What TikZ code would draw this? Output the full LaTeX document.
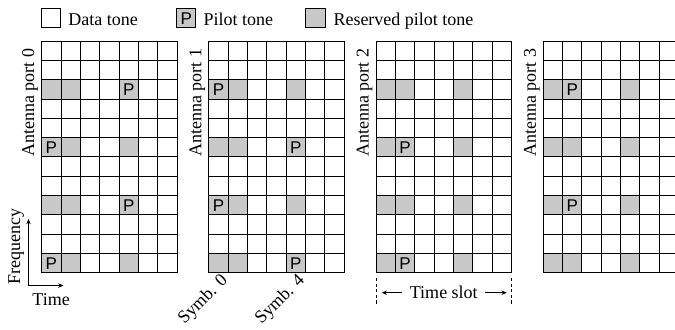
\documentclass[tikz,border=0pt]{standalone}
\usepackage{fontspec}
\setmainfont{Liberation Serif}
\newfontfamily\pilotsans{Liberation Sans}
\usetikzlibrary{arrows.meta}

\definecolor{resgray}{HTML}{C8C8C8}

\tikzset{
  tonebox/.style={draw, minimum size=9.65pt, inner sep=0pt, line width=0.5pt},
  pilotP/.style={font=\pilotsans\fontsize{8.5}{9}\selectfont, inner sep=0pt},
  plain/.style={inner sep=0pt},
  >={Stealth[length=2.6pt,width=2.2pt]},
}

\begin{document}
\begin{tikzpicture}[x=0.5pt, y=-0.5pt, line width=0.5pt, font=\fontsize{9}{10.8}\selectfont]
\useasboundingbox (0,0) rectangle (675,329);

% legend
\node[tonebox] (lgdata) at (51.3,18.3) {};
\node[plain, anchor=base west] (lgdatatxt) at (68,25) {Data tone};
\node[tonebox, fill=resgray, pilotP] (lgpilot) at (186.2,18.3) {P};
\node[plain, anchor=base west] (lgpilottxt) at (203,25) {Pilot tone};
\node[tonebox, fill=resgray] (lgres) at (315.6,18.3) {};
\node[plain, anchor=base west] (lgrestxt) at (333,25) {Reserved pilot tone};

% one grid per antenna port
\foreach \k in {0,...,3} {
  \pgfmathsetmacro\gx{41.7+167.2*\k}
  % reserved pilot tones
  \foreach \r in {2,5,8,11}
    \foreach \c in {0,1,4}
      \fill[resgray] (\gx+\c*19.33, 41+\r*19.33) rectangle ++(19.33,19.33);
  % grid lines
  \foreach \c in {0,...,7}
    \draw (\gx+\c*19.33, 41) -- ++(0,231.96);
  \foreach \r in {0,...,12}
    \draw (\gx, 41+\r*19.33) -- ++(135.31,0);
  % port label
  \node[plain, rotate=90, anchor=base east] (ap\k) at (\gx-7.5,48) {Antenna port \k};
}

% pilot tones (port/row/column)
\foreach \k/\r/\c in {0/2/4, 0/5/0, 0/8/4, 0/11/0,
                      1/2/0, 1/5/4, 1/8/0, 1/11/4,
                      2/5/1, 2/11/1, 3/2/1, 3/8/1}
  \node[pilotP] (p\k-\r) at (41.7+167.2*\k+\c*19.33+9.67, 41+\r*19.33+9.67) {P};

% frequency / time axes
\coordinate (orig) at (28.5,285.5);
\coordinate (freqend) at (28.5,219);
\coordinate (timeend) at (63.5,285.5);
\draw[<->] (freqend) -- (orig) -- (timeend);
\node[plain, rotate=90, anchor=base west] (freqlbl) at (20,285) {Frequency};
\node[plain, anchor=base west] (timelbl) at (32,305) {Time};

% symbol labels
\node[plain, rotate=45, anchor=east] (symb0) at (225.5,278) {Symb. 0};
\node[plain, rotate=45, anchor=east] (symb4) at (302.5,278) {Symb. 4};

% time slot
\coordinate (tsltop) at (376,278);
\coordinate (tslbot) at (376,305);
\coordinate (tsrtop) at (511.7,278);
\coordinate (tsrbot) at (511.7,305);
\draw[dash pattern=on 1.6pt off 1.2pt] (tsltop) -- (tslbot);
\draw[dash pattern=on 1.6pt off 1.2pt] (tsrtop) -- (tsrbot);
\node[inner sep=3.5pt] (tslot) at (443.8,292.7) {Time slot};
\coordinate (tsleft) at (381.7,292.7);
\coordinate (tsright) at (506.7,292.7);
\draw[->] (tslot.west) -- (tsleft);
\draw[->] (tslot.east) -- (tsright);

\end{tikzpicture}
\end{document}
